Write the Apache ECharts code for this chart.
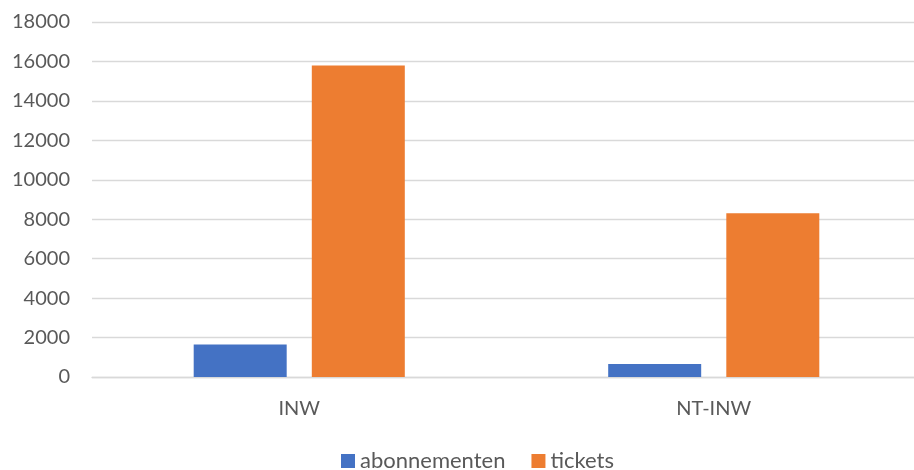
<!DOCTYPE html>
<html>
<head>
<meta charset="utf-8">
<script src="https://cdn.jsdelivr.net/npm/echarts@6/dist/echarts.min.js"></script>
<style>html,body{margin:0;padding:0;background:#fff;overflow:hidden;width:914px;height:470px}#c{width:930px;height:470px}</style>
</head>
<body>
<div id="c"></div>
<script>
var categories = ['INW', 'NT-INW'];
var seriesNames = ['abonnementen', 'tickets'];
var abonnementen = [1650, 660];
var tickets = [15800, 8300];
var yTicks = [0, 2000, 4000, 6000, 8000, 10000, 12000, 14000, 16000, 18000];

var font = 'Lato, "Open Sans", sans-serif';
var chart = echarts.init(document.getElementById('c'));
chart.setOption({
  animation: false,
  color: ['#4472C4', '#ED7D31'],
  grid: { left: 92, top: 22, width: 829, height: 355, containLabel: false },
  legend: {
    top: 445, left: 336,
    itemWidth: 14, itemHeight: 14, itemGap: 26,
    icon: 'rect',
    textStyle: { color: '#595959', fontSize: 22, fontFamily: font },
    data: seriesNames
  },
  xAxis: {
    type: 'category', data: categories,
    axisLine: { lineStyle: { color: '#D9D9D9', width: 1.3 } },
    axisTick: { show: false },
    axisLabel: { color: '#595959', fontSize: 20, fontFamily: font, margin: 22 }
  },
  yAxis: {
    type: 'value', min: yTicks[0], max: yTicks[yTicks.length - 1], interval: 2000,
    axisLine: { show: false }, axisTick: { show: false },
    splitLine: { lineStyle: { color: '#D9D9D9', width: 1.3 } },
    axisLabel: { color: '#595959', fontSize: 20, fontFamily: font, margin: 22,
      formatter: function (v) { return String(v); } }
  },
  series: [
    { name: seriesNames[0], type: 'bar', data: abonnementen, barWidth: 93, barGap: '27%' },
    { name: seriesNames[1], type: 'bar', data: tickets, barWidth: 93, barGap: '27%' }
  ]
});
</script>
</body>
</html>
